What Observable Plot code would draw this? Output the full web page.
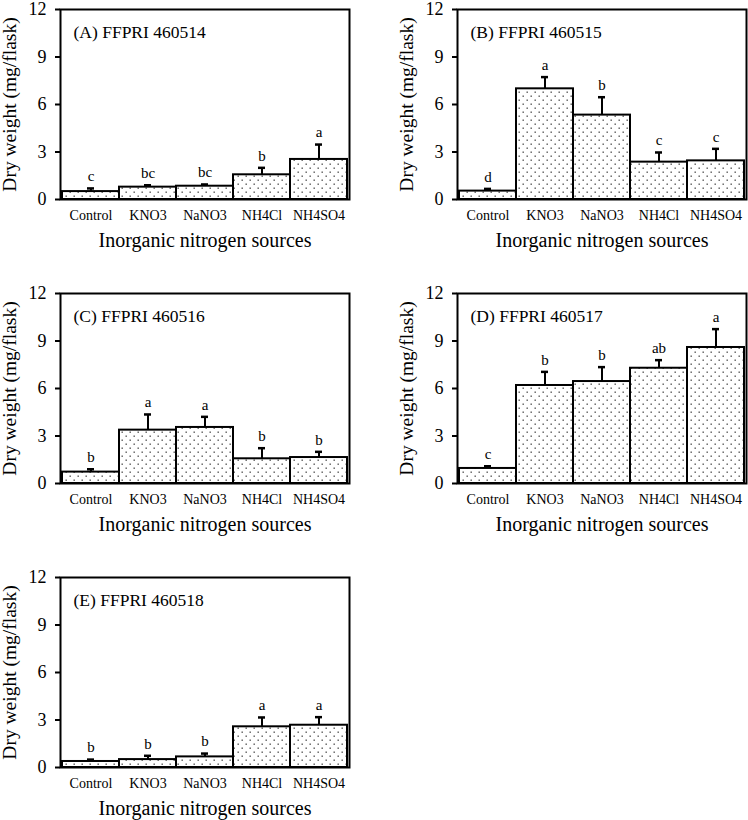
<!DOCTYPE html>
<html>
<head>
<meta charset="utf-8">
<script src="https://cdn.jsdelivr.net/npm/d3@7"></script>
<script src="https://cdn.jsdelivr.net/npm/@observablehq/plot@0.6"></script>
<style>
  html, body { margin: 0; padding: 0; background: #fff; overflow: hidden; }
  #fig { position: relative; width: 748px; height: 820px; font-family: "Liberation Serif", "DejaVu Serif", serif; }
  .panel { position: absolute; }
</style>
</head>
<body>
<svg width="0" height="0" style="position:absolute">
  <defs>
    <pattern id="dots" width="8" height="8" patternUnits="userSpaceOnUse">
      <rect width="8" height="8" fill="#fff"></rect>
      <rect x="1.5" y="1.5" width="1.4" height="1.4" fill="#555"></rect>
      <rect x="5.5" y="5.5" width="1.4" height="1.4" fill="#555"></rect>
    </pattern>
  </defs>
</svg>
<div id="fig"></div>
<script>
const categories = ["Control", "KNO3", "NaNO3", "NH4Cl", "NH4SO4"];
const yTicks = [0, 3, 6, 9, 12];
const panelTitles = ["(A) FFPRI 460514", "(B) FFPRI 460515", "(C) FFPRI 460516", "(D) FFPRI 460517", "(E) FFPRI 460518"];

const meanA = [0.50, 0.78, 0.84, 1.56, 2.53];
const errA  = [0.70, 0.90, 0.95, 2.00, 3.47];
const letA  = ["c", "bc", "bc", "b", "a"];

const meanB = [0.53, 6.99, 5.33, 2.36, 2.44];
const errB  = [0.67, 7.73, 6.46, 2.97, 3.20];
const letB  = ["d", "a", "b", "c", "c"];

const meanC = [0.72, 3.37, 3.54, 1.56, 1.64];
const errC  = [0.90, 4.36, 4.21, 2.23, 2.00];
const letC  = ["b", "a", "a", "b", "b"];

const meanD = [0.95, 6.19, 6.44, 7.28, 8.59];
const errD  = [1.09, 7.05, 7.35, 7.79, 9.75];
const letD  = ["c", "b", "b", "ab", "a"];

const meanE = [0.38, 0.50, 0.67, 2.57, 2.67];
const errE  = [0.50, 0.74, 0.88, 3.16, 3.18];
const letE  = ["b", "b", "b", "a", "a"];

const panels = [
  {title: panelTitles[0], mean: meanA, err: errA, letters: letA, left: 0,   top: 2},
  {title: panelTitles[1], mean: meanB, err: errB, letters: letB, left: 397, top: 2},
  {title: panelTitles[2], mean: meanC, err: errC, letters: letC, left: 0,   top: 286},
  {title: panelTitles[3], mean: meanD, err: errD, letters: letD, left: 397, top: 286},
  {title: panelTitles[4], mean: meanE, err: errE, letters: letE, left: 0,   top: 570}
];

const serif = '"Liberation Serif", "DejaVu Serif", serif';
const fig = document.getElementById("fig");
for (const p of panels) {
  const rows = categories.map((c, i) => ({cat: c, mean: p.mean[i], err: p.err[i], letter: p.letters[i]}));
  const chart = Plot.plot({
    width: 351,
    height: 260,
    marginLeft: 60,
    marginRight: 2,
    marginTop: 7,
    marginBottom: 63,
    style: {fontFamily: serif, color: "#000", background: "#fff"},
    x: {domain: categories, padding: 0, label: null},
    y: {domain: [0, 12], label: null},
    marks: [
      Plot.barY(rows, {x: "cat", y: "mean", fill: "url(#dots)", stroke: "#000", strokeWidth: 2}),
      Plot.ruleX(rows, {x: "cat", y1: "mean", y2: "err", stroke: "#000", strokeWidth: 2}),
      Plot.tickY(rows, {x: "cat", y: "err", stroke: "#000", strokeWidth: 2.5, inset: 25}),
      Plot.text(rows, {x: "cat", y: "err", text: "letter", dy: -12, fontSize: 15, fill: "#000", fontFamily: serif}),
      Plot.frame({stroke: "#000", strokeWidth: 2}),
      Plot.axisY({ticks: yTicks, tickSize: 5, tickPadding: 9, fontSize: 18, label: null, strokeWidth: 2, fontFamily: serif}),
      Plot.axisX({tickSize: 0, tickPadding: 11, fontSize: 14, label: null, fontFamily: serif}),
      Plot.text([p.title], {frameAnchor: "top-left", dx: 13, dy: 23, lineAnchor: "middle", textAnchor: "start", fontSize: 17.5, fill: "#000", fontFamily: serif}),
      Plot.text(["Dry weight (mg/flask)"], {frameAnchor: "left", dx: -51, rotate: -90, textAnchor: "middle", lineAnchor: "middle", fontSize: 19.5, fill: "#000", fontFamily: serif}),
      Plot.text(["Inorganic nitrogen sources"], {frameAnchor: "bottom", dy: 41, lineAnchor: "middle", textAnchor: "middle", fontSize: 20, fill: "#000", fontFamily: serif})
    ]
  });
  chart.classList.add("panel");
  chart.style.left = p.left + "px";
  chart.style.top = p.top + "px";
  chart.style.overflow = "visible";
  fig.appendChild(chart);
}
</script>
</body>
</html>
